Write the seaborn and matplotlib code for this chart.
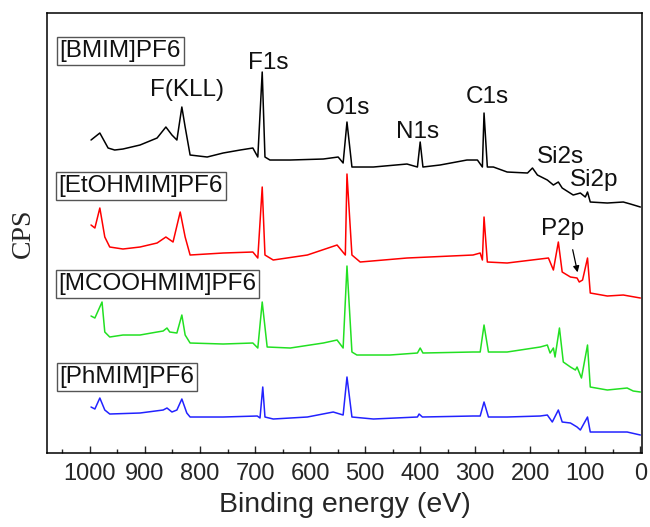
import numpy as np
import pandas as pd
import matplotlib
matplotlib.use("Agg")
import matplotlib.pyplot as plt
from matplotlib.ticker import MultipleLocator
import seaborn as sns

# XPS survey spectra of four PF6 ionic liquids (stacked, arbitrary CPS units)
samples = ["[BMIM]PF6", "[EtOHMIM]PF6", "[MCOOHMIM]PF6", "[PhMIM]PF6"]
colors = ["black", "#ff0000", "#22e022", "#2222ff"]

bmim_be = [998, 982, 967, 955, 940, 909, 878, 862, 851, 842, 833, 827, 818, 787, 758,
           727, 704, 695, 687, 682, 673, 636, 576, 549, 540, 533, 524, 485, 424, 405,
           400, 395, 364, 315, 296, 287, 284, 278, 267, 242, 205, 196, 187, 169, 158,
           149, 142, 122, 109, 100, 96, 91, 60, 31, 18, 0]
bmim_cps = [313, 320, 305, 303, 304, 308, 315, 326, 318, 313, 346, 326, 298, 296, 300,
            303, 305, 296, 381, 296, 293, 293, 294, 296, 290, 331, 286, 286, 289, 286,
            311, 286, 288, 293, 293, 286, 340, 286, 286, 281, 280, 285, 278, 273, 268,
            271, 265, 258, 260, 256, 261, 251, 250, 251, 249, 246]

etoh_be = [998, 991, 982, 973, 964, 940, 909, 878, 862, 849, 836, 827, 818, 758, 704,
           695, 687, 682, 667, 605, 551, 536, 533, 524, 509, 424, 304, 291, 287, 284,
           278, 242, 182, 167, 158, 149, 142, 127, 115, 111, 105, 96, 91, 60, 31, 0]
etoh_cps = [228, 225, 245, 216, 206, 204, 206, 210, 216, 211, 241, 216, 198, 200, 201,
            195, 266, 198, 193, 198, 208, 198, 279, 198, 191, 195, 198, 200, 193, 236,
            191, 190, 194, 195, 183, 211, 181, 176, 175, 171, 173, 195, 160, 157, 158, 155]

mcooh_be = [998, 991, 978, 973, 964, 940, 909, 878, 867, 860, 855, 842, 833, 827, 818,
            758, 704, 695, 687, 678, 636, 576, 551, 540, 533, 524, 515, 455, 405, 400,
            395, 304, 291, 284, 276, 242, 182, 169, 164, 158, 155, 147, 140, 127, 118,
            115, 107, 96, 91, 60, 24, 13, 0]
mcooh_cps = [137, 135, 151, 121, 116, 118, 118, 121, 122, 125, 121, 120, 138, 118, 110,
             109, 110, 105, 151, 106, 105, 110, 113, 105, 187, 101, 98, 98, 100, 105,
             100, 101, 101, 128, 101, 101, 106, 108, 100, 105, 96, 125, 91, 86, 83,
             86, 75, 108, 66, 63, 65, 62, 61]

phmim_be = [998, 991, 982, 973, 964, 909, 867, 860, 851, 842, 833, 824, 818, 758, 696,
            691, 686, 682, 667, 605, 558, 540, 533, 524, 485, 405, 402, 396, 304, 291,
            284, 276, 242, 182, 169, 160, 149, 142, 127, 115, 109, 96, 91, 60, 24, 0]
phmim_cps = [46, 44, 55, 43, 39, 40, 43, 45, 41, 43, 54, 40, 36, 36, 37,
             35, 66, 36, 34, 36, 41, 38, 76, 36, 34, 36, 39, 36, 37, 37,
             51, 36, 36, 37, 38, 31, 43, 31, 30, 26, 23, 36, 21, 21, 21, 18]

# Peak assignments: (label, binding energy, text height)
peak_labels = ["F(KLL)", "F1s", "O1s", "N1s", "C1s", "Si2s", "Si2p", "P2p"]
peak_label_be = [824, 676, 531, 404, 278, 145, 84, 142]
peak_label_cps = [363, 390, 345, 321, 356, 296, 273, 224]

# Sample name tags: left edge energy and height
tag_be = [1055, 1057, 1057, 1055]
tag_cps = [402, 267, 169, 76]

frames = []
for name, be, cps in zip(samples,
                         [bmim_be, etoh_be, mcooh_be, phmim_be],
                         [bmim_cps, etoh_cps, mcooh_cps, phmim_cps]):
    frames.append(pd.DataFrame({"sample": name, "be": be, "cps": cps}))
df = pd.concat(frames, ignore_index=True)

sns.set_style("ticks")
plt.rcParams["font.family"] = ["Liberation Sans", "DejaVu Sans"]

fig = plt.figure(figsize=(6.5, 5.27), dpi=100)
ax = fig.add_axes([0.0723, 0.1404, 0.9154, 0.8349])

sns.lineplot(data=df, x="be", y="cps", hue="sample", hue_order=samples,
             palette=colors, estimator=None, sort=False, linewidth=1.1,
             legend=False, ax=ax)

ax.set_xlim(1078, -3)
ax.set_ylim(0, 440)
ax.set_xticks(np.arange(0, 1001, 100))
ax.xaxis.set_minor_locator(MultipleLocator(50))
ax.tick_params(axis="x", which="major", direction="in", length=5, width=1,
               labelsize=17, pad=7, top=False)
ax.tick_params(axis="x", which="minor", direction="in", length=3, width=1, top=False)
ax.set_yticks([])
for s in ax.spines.values():
    s.set_visible(True)
    s.set_linewidth(1.1)
    s.set_color("black")

ax.set_xlabel("Binding energy (eV)", fontsize=20.5, labelpad=5)
ax.set_ylabel("CPS", fontsize=20, family=["Liberation Serif", "DejaVu Serif"], labelpad=8)

for lab, xb, yc in zip(peak_labels, peak_label_be, peak_label_cps):
    ax.text(xb, yc, lab, fontsize=17.5, ha="center", va="center", color="#111111")

# arrow pointing at the P2p peak of the red spectrum
ax.annotate("", xy=(113, 178), xytext=(124, 206),
            arrowprops=dict(arrowstyle="-|>", color="black", lw=0.9,
                            mutation_scale=9))

for name, xb, yc in zip(samples, tag_be, tag_cps):
    ax.text(xb, yc, name, fontsize=17.5, ha="left", va="center", color="#111111",
            bbox=dict(boxstyle="square,pad=0.12", fc="white", ec="#555555", lw=1))

fig.savefig("out.png", dpi=100)
